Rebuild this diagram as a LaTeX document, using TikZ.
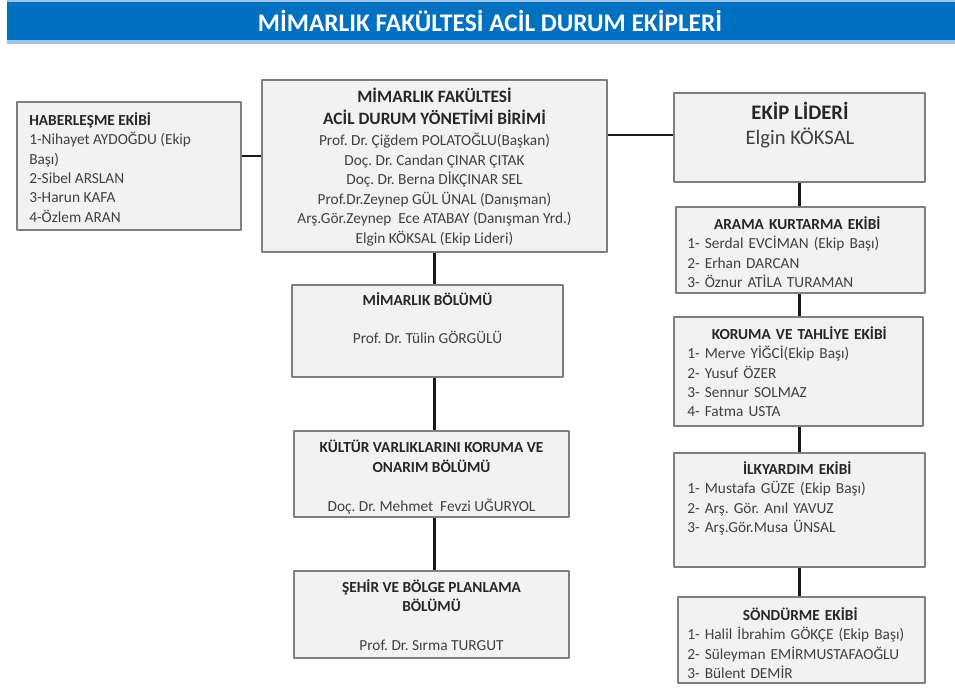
\documentclass[tikz,border=0pt]{standalone}
\usepackage{fontspec}
\setmainfont{Carlito}
\usetikzlibrary{fit}
\frenchspacing

\definecolor{bandblue}{HTML}{0070C0}
\definecolor{bandlight}{HTML}{9DC3E6}
\definecolor{boxfill}{HTML}{F2F2F2}
\definecolor{boxline}{HTML}{7F7F7F}
\definecolor{namegray}{HTML}{404040}
\definecolor{headgray}{HTML}{262626}

\newcommand{\bhead}[1]{{\bfseries\color{headgray}#1}}

\begin{document}
\begin{tikzpicture}
	[x=0.75pt,y=-0.75pt,line join=round,
	box/.style={draw=boxline,line width=1.3pt,fill=boxfill,inner sep=0pt},
	names/.style={inner sep=0pt,text=namegray,font=\fontsize{11.5}{14.6}\selectfont},
	link/.style={line width=1.7pt,draw=black!90}]
	\useasboundingbox (0,0) rectangle (955,687);
	% title band
	\fill[bandblue] (7,0) rectangle (955,44);
	\fill[bandlight] (7,0) rectangle (955,2);
	\fill[bandlight] (7,40) rectangle (955,44);
	\node[text=white,font=\fontsize{19}{22}\selectfont\bfseries] (title) at (490,21) {MİMARLIK FAKÜLTESİ ACİL DURUM EKİPLERİ};
	% boxes
	\node[box,fit={(17,102) (241,230)}] (haber) {};
	\node[box,fit={(262,80) (607,252)}] (birim) {};
	\node[box,fit={(674,93) (925,182)}] (lider) {};
	\node[box,fit={(676,207) (925,293)}] (arama) {};
	\node[box,fit={(674,317) (923,426)}] (koruma) {};
	\node[box,fit={(674,453) (925,567)}] (ilkyardim) {};
	\node[box,fit={(678,597) (925,683)}] (sondurme) {};
	\node[box,fit={(292,285) (563,377)}] (mimbol) {};
	\node[box,fit={(294,431) (569,517)}] (kultur) {};
	\node[box,fit={(294,571) (569,658)}] (sehir) {};
	% texts
	\node[names,anchor=north west,align=left] (haber-t) at (29,112) {\bhead{HABERLEŞME EKİBİ}\\1-Nihayet AYDOĞDU (Ekip\\Başı)\\2-Sibel ARSLAN\\3-Harun KAFA\\4-Özlem ARAN};
	\node[names,anchor=north,align=center] (birim-t) at (434.5,88) {{\fontsize{13}{15.75}\selectfont\bhead{MİMARLIK FAKÜLTESİ}}\\[1.5pt]{\fontsize{13}{15.75}\selectfont\bhead{ACİL DURUM YÖNETİMİ BİRİMİ}}\\[1.5pt]Prof. Dr. Çiğdem POLATOĞLU(Başkan)\\Doç. Dr. Candan ÇINAR ÇITAK\\Doç. Dr. Berna DİKÇINAR SEL\\Prof.Dr.Zeynep GÜL ÜNAL (Danışman)\\Arş.Gör.Zeynep~ Ece ATABAY (Danışman Yrd.)\\Elgin KÖKSAL (Ekip Lideri)};
	\node[anchor=north,align=center,inner sep=0pt,font=\fontsize{15.5}{19}\selectfont] (lider-t) at (800,102) {\bhead{EKİP LİDERİ}\\{\color{namegray}Elgin KÖKSAL}};
	\node[names,anchor=north west,align=left,text width=165pt] (arama-t) at (687,216) {\makebox[\linewidth]{\bhead{ARAMA KURTARMA EKİBİ}}\\1- Serdal EVCİMAN (Ekip Başı)\\2- Erhan DARCAN\\3- Öznur ATİLA TURAMAN};
	\node[names,anchor=north west,align=left,text width=168pt] (koruma-t) at (687,326) {\makebox[\linewidth]{\bhead{KORUMA VE TAHLİYE EKİBİ}}\\1- Merve YİĞCİ(Ekip Başı)\\2- Yusuf ÖZER\\3- Sennur SOLMAZ\\4- Fatma USTA};
	\node[names,anchor=north west,align=left,text width=165pt] (ilkyardim-t) at (687,461) {\makebox[\linewidth]{\bhead{İLKYARDIM EKİBİ}}\\1- Mustafa GÜZE (Ekip Başı)\\2- Arş. Gör. Anıl YAVUZ\\3- Arş.Gör.Musa ÜNSAL};
	\node[names,anchor=north west,align=left,text width=169.5pt] (sondurme-t) at (687,607) {\makebox[\linewidth]{\bhead{SÖNDÜRME EKİBİ}}\\1- Halil İbrahim GÖKÇE (Ekip Başı)\\2- Süleyman EMİRMUSTAFAOĞLU\\3- Bülent DEMİR};
	\node[names,anchor=north,align=center] (mimbol-t) at (427.5,292) {\bhead{MİMARLIK BÖLÜMÜ}\\[14.5pt]Prof. Dr. Tülin GÖRGÜLÜ};
	\node[names,anchor=north,align=center] (kultur-t) at (431.5,440) {\bhead{KÜLTÜR VARLIKLARINI KORUMA VE}\\\bhead{ONARIM BÖLÜMÜ}\\[14.5pt]Doç. Dr. Mehmet~ Fevzi UĞURYOL};
	\node[names,anchor=north,align=center] (sehir-t) at (431.5,579) {\bhead{ŞEHİR VE BÖLGE PLANLAMA}\\\bhead{BÖLÜMÜ}\\[14.5pt]Prof. Dr. Sırma TURGUT};
	% connectors
	\draw[link] (haber.east |- 0,156) -- (birim.west |- 0,156);
	\draw[link] (birim.east |- 0,135) -- (lider.west |- 0,135);
	\draw[link] (birim.south) -- (birim.south |- mimbol.north);
	\draw[link] (birim.south |- mimbol.south) -- (birim.south |- kultur.north);
	\draw[link] (birim.south |- kultur.south) -- (birim.south |- sehir.north);
	\draw[link] (lider.south) -- (lider.south |- arama.north);
	\draw[link] (lider.south |- arama.south) -- (lider.south |- koruma.north);
	\draw[link] (lider.south |- koruma.south) -- (lider.south |- ilkyardim.north);
	\draw[link] (lider.south |- ilkyardim.south) -- (lider.south |- sondurme.north);
\end{tikzpicture}
\end{document}
